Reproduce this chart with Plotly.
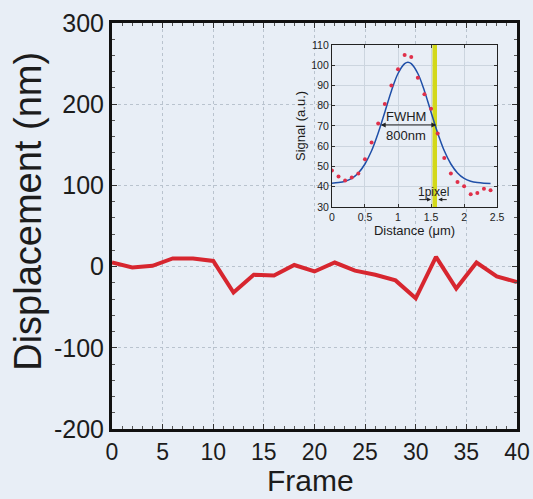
import plotly.graph_objects as go

# Main displacement trace
frames = [0, 2, 4, 6, 8, 10, 12, 14, 16, 18, 20, 22, 24, 26, 28, 30, 32, 34, 36, 38, 40]
displacement = [5, -1, 1, 10, 10, 7, -32, -10, -11, 2, -6, 5, -5, -10, -17, -39, 12, -27, 5, -12, -19]

x_ticks = [0, 5, 10, 15, 20, 25, 30, 35, 40]
y_ticks = [-200, -100, 0, 100, 200, 300]
y_ticktext = ["-200", "-100", "0", "100", "200", "300"]

# Inset: measured signal profile
dist_pts = [0, 0.1, 0.2, 0.3, 0.4, 0.5, 0.6, 0.7, 0.8, 0.9, 1.0, 1.1, 1.2, 1.3, 1.4, 1.5,
            1.6, 1.7, 1.8, 1.9, 2.0, 2.1, 2.2, 2.3, 2.4]
signal_pts = [48, 45, 43, 44.5, 46.5, 53.6, 61.8, 71.2, 80.8, 89.9, 98, 105, 104, 93.8, 85.7, 78.5,
              66.3, 54.2, 46.5, 42.3, 40.2, 36.2, 36.9, 39, 38.2]

# Inset: fitted curve
dist_fit = [0, 0.1, 0.2, 0.3, 0.4, 0.5, 0.6, 0.7, 0.8, 0.9, 1.0, 1.1, 1.15, 1.2, 1.3, 1.4, 1.5,
            1.6, 1.7, 1.8, 1.9, 2.0, 2.1, 2.2, 2.3, 2.4]
signal_fit = [41.7, 42.0, 42.7, 44.1, 46.8, 51.2, 57.7, 66.5, 76.8, 87.3, 95.9, 100.8, 101.5, 100.8,
              95.9, 87.3, 76.8, 66.5, 57.7, 51.2, 46.8, 44.1, 42.7, 42.0, 41.7, 41.6]

inset_x_ticks = [0, 0.5, 1, 1.5, 2, 2.5]
inset_x_text = ["0", "0.5", "1", "1.5", "2", "2.5"]
inset_y_ticks = [30, 40, 50, 60, 70, 80, 90, 100, 110]

pixel_x = 1.556
fwhm_left, fwhm_right, fwhm_y = 0.715, 1.58, 70.5

BG = "#e8eef6"
FONT = "Liberation Sans, Arial, sans-serif"
INK = "#1c1c1c"

fig = go.Figure()

fig.add_trace(go.Scatter(x=frames, y=displacement, mode="lines",
                         line=dict(color="#d7262f", width=4), showlegend=False))

# inset yellow band
fig.add_trace(go.Scatter(x=[pixel_x, pixel_x], y=[30, 110], mode="lines",
                         line=dict(color="#d3d81a", width=4.5), showlegend=False,
                         xaxis="x2", yaxis="y2"))
fig.add_trace(go.Scatter(x=dist_fit, y=signal_fit, mode="lines", line_shape="spline",
                         line=dict(color="#1f4fa8", width=1.5), showlegend=False,
                         xaxis="x2", yaxis="y2"))
fig.add_trace(go.Scatter(x=dist_pts, y=signal_pts, mode="markers",
                         marker=dict(color="#e0304a", size=4), showlegend=False,
                         xaxis="x2", yaxis="y2"))

fig.update_layout(
    width=533, height=499,
    margin=dict(l=112, r=16, t=23, b=70),
    paper_bgcolor=BG, plot_bgcolor=BG,
    font=dict(family=FONT, color=INK),
    xaxis=dict(range=[0, 40], tickvals=x_ticks, automargin=False,
               ticks="inside", ticklen=5, tickwidth=1, tickcolor="#333",
               minor=dict(dtick=1, ticks="inside", ticklen=3, tickcolor="#555", showgrid=False),
               showline=True, linewidth=3, linecolor="#111", mirror="ticks",
               showgrid=True, gridcolor="#b9c3ce", gridwidth=1, griddash="dot", zeroline=False,
               tickfont=dict(size=23)),
    yaxis=dict(range=[-200, 300], tickvals=y_ticks, ticktext=y_ticktext, automargin=False,
               ticks="inside", ticklen=5, tickwidth=1, tickcolor="#333",
               minor=dict(dtick=20, ticks="inside", ticklen=3, tickcolor="#555", showgrid=False),
               showline=True, linewidth=3, linecolor="#111", mirror="ticks",
               showgrid=True, gridcolor="#b9c3ce", gridwidth=1, griddash="dot", zeroline=False,
               tickfont=dict(size=25)),
    xaxis2=dict(domain=[0.543, 0.951], anchor="y2", range=[0, 2.5], automargin=False,
                tickvals=inset_x_ticks, ticktext=inset_x_text,
                ticks="inside", ticklen=3, tickcolor="#333",
                showline=True, linewidth=1, linecolor="#222", mirror="ticks",
                showgrid=True, gridcolor="#ccd5df", zeroline=False,
                tickfont=dict(size=10.5), title=dict(text="Distance (μm)", font=dict(size=13), standoff=0)),
    yaxis2=dict(domain=[0.547, 0.946], anchor="x2", range=[30, 110], automargin=False,
                tickvals=inset_y_ticks,
                ticks="inside", ticklen=3, tickcolor="#333",
                showline=True, linewidth=1, linecolor="#222", mirror="ticks",
                showgrid=True, gridcolor="#ccd5df", zeroline=False,
                tickfont=dict(size=10.5), title=dict(text="Signal (a.u.)", font=dict(size=13), standoff=2)),
)

# main axis titles
fig.add_annotation(x=0, y=0.535, xref="paper", yref="paper", xanchor="center", yanchor="middle",
                   xshift=-84, text="Displacement (nm)",
                   textangle=-90, showarrow=False, font=dict(size=38, color=INK))
fig.add_annotation(x=0.489, y=0, xref="paper", yref="paper", xanchor="center", yanchor="middle",
                   yshift=-51.5, text="Frame", showarrow=False, font=dict(size=30, color=INK))

# FWHM double arrow
fig.add_annotation(x=fwhm_right, y=fwhm_y, ax=fwhm_left, ay=fwhm_y, xref="x2", yref="y2",
                   axref="x2", ayref="y2", showarrow=True, arrowhead=2, arrowside="end+start",
                   arrowsize=1, arrowwidth=1, arrowcolor="#222", text="")
fig.add_annotation(x=1.12, y=74.5, xref="x2", yref="y2", text="FWHM", showarrow=False,
                   font=dict(size=13, color=INK))
fig.add_annotation(x=1.12, y=65.5, xref="x2", yref="y2", text="800nm", showarrow=False,
                   font=dict(size=13, color=INK))
# 1pixel
fig.add_annotation(x=1.54, y=37.5, xref="x2", yref="y2", text="1pixel", showarrow=False,
                   font=dict(size=12, color=INK))
fig.add_annotation(x=1.5, y=33.6, ax=1.3, ay=33.6, xref="x2", yref="y2", axref="x2", ayref="y2",
                   showarrow=True, arrowhead=2, arrowsize=0.8, arrowwidth=1, arrowcolor="#222", text="")
fig.add_annotation(x=1.61, y=33.6, ax=1.76, ay=33.6, xref="x2", yref="y2", axref="x2", ayref="y2",
                   showarrow=True, arrowhead=2, arrowsize=0.8, arrowwidth=1, arrowcolor="#222", text="")

fig.write_html(
    "out.html",
    config={"displayModeBar": False},
    post_script="document.body.style.margin='0';document.body.style.overflow='hidden';"
                "document.body.style.background='" + BG + "';",
)
